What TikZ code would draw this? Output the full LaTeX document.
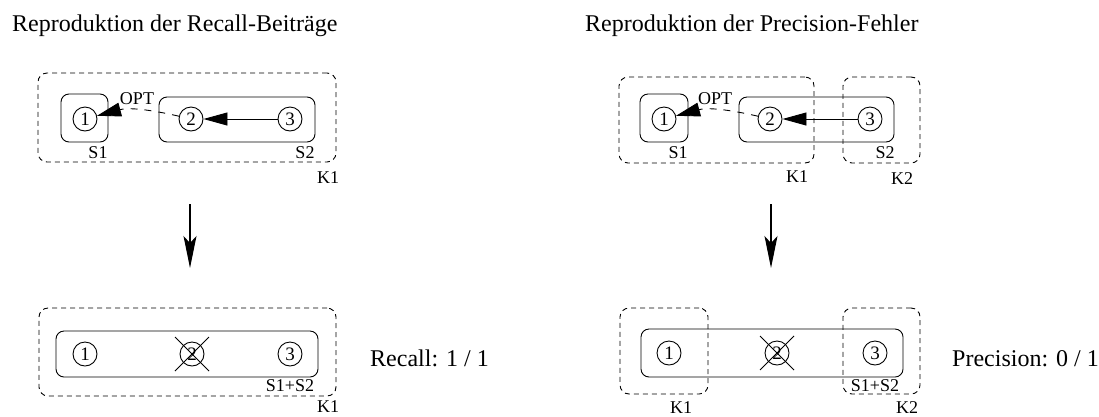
\documentclass[tikz,border=0pt]{standalone}
\usepackage{fontspec}
\setmainfont{Liberation Serif}
\usetikzlibrary{arrows.meta,calc}

\tikzset{
  bigtext/.style={font=\fontsize{24}{28}\selectfont, inner sep=0pt},
  lbl/.style={font=\fontsize{18}{20}\selectfont, inner sep=0pt},
  num/.style={circle, draw, line width=0.9pt, minimum size=24pt, inner sep=0pt,
              font=\fontsize{19}{20}\selectfont},
  setbox/.style={draw, line width=0.9pt, rounded corners=8pt, inner sep=0pt},
  clusterbox/.style={draw, line width=0.9pt, rounded corners=9pt, inner sep=0pt,
                     dash pattern=on 5pt off 4pt},
  link/.style={line width=0.9pt, -{Triangle[length=24pt,width=13pt]}},
  optlink/.style={line width=0.9pt, dash pattern=on 7pt off 7pt,
                  -{Triangle[length=24pt,width=14pt]}},
  flow/.style={line width=1.2pt, -{Stealth[length=32pt,width=13pt,inset=7pt]}},
}

\begin{document}
\begin{tikzpicture}[x=1pt,y=-1pt]
\useasboundingbox (0,0) rectangle (1099,416);

% ---------- titles ----------
\node[bigtext, anchor=base west] (tl) at (12,31) {Reproduktion der Recall-Beiträge};
\node[bigtext, anchor=base west] (tr) at (585,31) {Reproduktion der Precision-Fehler};

% ---------- left, before merging ----------
\node[clusterbox, minimum width=298pt, minimum height=89pt] (lK) at (187,117.5) {};
\node[setbox, minimum width=47pt, minimum height=48pt] (lS1) at (84.5,118) {};
\node[setbox, minimum width=156pt, minimum height=45pt] (lS2) at (237,119.5) {};
\node[num] (la1) at (85,119) {1};
\node[num] (la2) at (191,119) {2};
\node[num] (la3) at (290,119) {3};
\draw[link] (la3) -- (la2);
\draw[optlink] (la2) to[out=167,in=15] (la1);
\node[lbl] (lopt) at (137,99) {OPT};
\node[lbl] (lS1t) at (98,153) {S1};
\node[lbl] (lS2t) at (305,153) {S2};
\node[lbl] (lKt) at (328,178) {K1};

% ---------- right, before merging ----------
\node[clusterbox, minimum width=195pt, minimum height=86pt] (rK1) at (716.5,120) {};
\node[clusterbox, minimum width=77pt, minimum height=86pt] (rK2) at (881.5,120) {};
\node[setbox, minimum width=48pt, minimum height=48pt] (rS1) at (664,118) {};
\node[setbox, minimum width=155pt, minimum height=45pt] (rS2) at (816.5,119.5) {};
\node[num] (ra1) at (664,119) {1};
\node[num] (ra2) at (770,119) {2};
\node[num] (ra3) at (870,119) {3};
\draw[link] (ra3) -- (ra2);
\draw[optlink] (ra2) to[out=167,in=15] (ra1);
\node[lbl] (ropt) at (715,99) {OPT};
\node[lbl] (rS1t) at (678,153) {S1};
\node[lbl] (rS2t) at (885,153) {S2};
\node[lbl] (rK1t) at (797,177) {K1};
\node[lbl] (rK2t) at (902,179) {K2};

% ---------- transition arrows ----------
\coordinate (ldown0) at (190,204);
\coordinate (ldown1) at (190,268);
\coordinate (rdown0) at (771,204);
\coordinate (rdown1) at (771,268);
\draw[flow] (ldown0) -- (ldown1);
\draw[flow] (rdown0) -- (rdown1);

% ---------- left, after merging ----------
\node[clusterbox, minimum width=297pt, minimum height=88pt] (lbK) at (187.5,352) {};
\node[setbox, minimum width=262pt, minimum height=46pt] (lbS) at (187,354) {};
\node[num] (lb1) at (85,354) {1};
\node[num] (lb2) at (192,354) {2};
\node[num] (lb3) at (290,354) {3};
\draw[line width=0.9pt] ($(lb2)+(-17,-17)$) -- ($(lb2)+(17,17)$);
\draw[line width=0.9pt] ($(lb2)+(17,-17)$) -- ($(lb2)+(-17,17)$);
\node[lbl] (lbSt) at (290,386) {S1+S2};
\node[lbl] (lbKt) at (328,407) {K1};
\node[bigtext, anchor=base west] (recall) at (370,366) {Recall: 1 / 1};

% ---------- right, after merging ----------
\node[clusterbox, minimum width=88pt, minimum height=86pt] (rbK1) at (664,351) {};
\node[clusterbox, minimum width=77pt, minimum height=86pt] (rbK2) at (881.5,351) {};
\node[setbox, minimum width=262pt, minimum height=48pt] (rbS) at (772,353) {};
\node[num] (rb1) at (669,353) {1};
\node[num] (rb2) at (777,353) {2};
\node[num] (rb3) at (875,353) {3};
\draw[line width=0.9pt] ($(rb2)+(-17,-17)$) -- ($(rb2)+(17,17)$);
\draw[line width=0.9pt] ($(rb2)+(17,-17)$) -- ($(rb2)+(-17,17)$);
\node[lbl] (rbSt) at (875,386) {S1+S2};
\node[lbl] (rbK1t) at (681,408) {K1};
\node[lbl] (rbK2t) at (907,408) {K2};
\node[bigtext, anchor=base west] (precision) at (952,366) {Precision: 0 / 1};
\end{tikzpicture}
\end{document}
